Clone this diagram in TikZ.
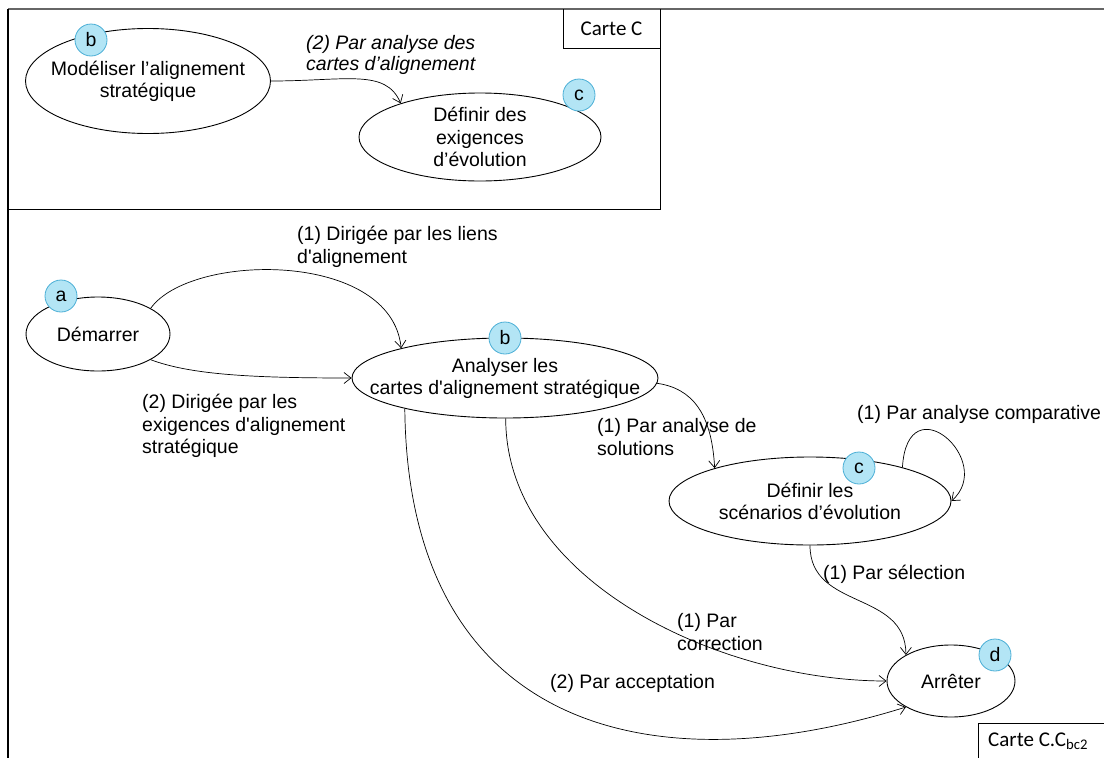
\documentclass[tikz,border=0pt]{standalone}
\usepackage{fontspec}
\setmainfont{Liberation Sans}
\newfontfamily\calib{Carlito}
\usetikzlibrary{shapes.geometric,arrows.meta}
\definecolor{badgefill}{HTML}{B3E5F5}
\definecolor{badgedraw}{HTML}{4BAFD6}
\begin{document}
\begin{tikzpicture}[x=1pt,y=-1pt,
  state/.style={ellipse,draw,fill=white,inner sep=0pt,line width=0.9pt},
  stxt/.style={align=center,inner sep=0pt,font=\fontsize{19.5}{22}\selectfont},
  badge/.style={circle,draw=badgedraw,fill=badgefill,minimum size=32pt,
    inner sep=0pt,font=\fontsize{19.5}{20}\selectfont,line width=0.8pt},
  lbl/.style={align=left,font=\fontsize{19.5}{22.5}\selectfont,inner sep=0pt,anchor=west},
  arr/.style={-{Straight Barb[length=7pt,width=11pt]},line width=0.7pt},
  framel/.style={line width=1.4pt},
  cartebox/.style={font=\calib\fontsize{21}{24}\selectfont,inner sep=0pt}]
\useasboundingbox (0,0) rectangle (1104,758);
% frame
\draw[framel,black!60] (8,9) -- (1104,9);
\draw[framel] (8,9) -- (8,758);
\draw[line width=1pt] (660,9) -- (660,209) -- (8,209);
\draw[line width=0.8pt] (563,9) -- (563,48) -- (660,48);
\node[cartebox] (cc) at (611.5,28.5) {Carte C};
\draw[line width=0.8pt] (978,758) -- (978,723) -- (1104,723);
\node[cartebox,anchor=west] (ccbc) at (988,741) {Carte C.C\textsubscript{bc2}};

% top map
\node[state,minimum width=245pt,minimum height=105pt] (M) at (148,81) {};
\node[stxt] (Mt) at (M.center) {Modéliser l’alignement\\stratégique};
\node[state,minimum width=242pt,minimum height=88pt] (E) at (480,137) {};
\node[stxt,font=\fontsize{19.5}{22.5}\selectfont] (Et) at (E.center) {Définir des\\exigences\\d’évolution};
\node[badge] (bM) at (91,40) {b};
\node[badge] (cE) at (579,95) {c};
\draw[arr] (M.0) .. controls +(75,0) and +(-15,-35) .. (E.157);
\node[lbl,font=\itshape\fontsize{19.5}{21.5}\selectfont] (lt) at (306,55) {(2) Par analyse des\\cartes d’alignement};

% bottom map
\node[state,minimum width=144pt,minimum height=74pt] (A) at (98,334) {};
\node[stxt] (At) at (A.center) {Démarrer};
\node[state,minimum width=306pt,minimum height=80pt] (B) at (505,378) {};
\node[stxt] (Bt) at (B.center) {Analyser les\\cartes d\textquotesingle alignement stratégique};
\node[state,minimum width=282pt,minimum height=88pt] (C) at (810,501) {};
\node[stxt] (Ct) at (C.center) {Définir les\\scénarios d’évolution};
\node[state,minimum width=128pt,minimum height=72pt] (D) at (951,681) {};
\node[stxt] (Dt) at (D.center) {Arrêter};
\node[badge] (ba) at (61,296) {a};
\node[badge] (bb) at (505,338) {b};
\node[badge] (bc) at (859,468) {c};
\node[badge] (bd) at (995,655) {d};

\draw[arr] (A.26) .. controls +(40,-56) and +(-10,-98) .. (B.164);
\node[lbl] (l1) at (297,247) {(1) Dirigée par les liens\\d\textquotesingle alignement};
\draw[arr] (A.-26) .. controls +(40,15) and +(-100,0) .. (B.180);
\node[lbl] (l2) at (142,426) {(2) Dirigée par les\\exigences d\textquotesingle alignement\\stratégique};

\draw[arr] (B.-2) .. controls +(35,5) and +(-3,-55) .. (C.161);
\node[lbl] (l3) at (597,437) {(1) Par analyse de\\solutions};

\draw[arr] (C.20) .. controls +(5,-85) and +(45,-40) .. (C.0);
\node[lbl] (l4) at (857,414) {(1) Par analyse comparative};

\draw[arr] (C.-90) .. controls +(0,65) and +(0,-65) .. (D.150);
\node[lbl] (l5) at (823,574) {(1) Par sélection};

\draw[arr] (B.-89) .. controls +(0,162) and +(-167,0) .. (D.180);
\node[lbl] (l6) at (677,632) {(1) Par\\correction};

\draw[arr] (B.197) .. controls +(3,312) and +(-266,83) .. (D.210);
\node[lbl] (l7) at (550,683) {(2) Par acceptation};
\end{tikzpicture}
\end{document}
